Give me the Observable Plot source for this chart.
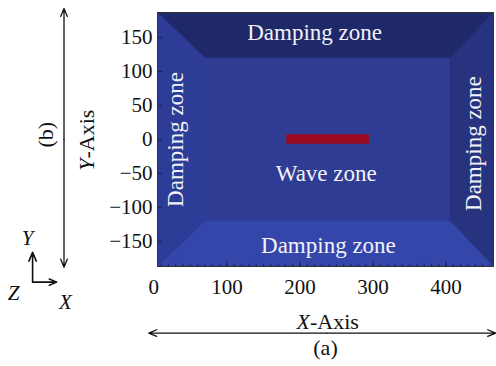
<!DOCTYPE html>
<html><head><meta charset="utf-8">
<script src="https://cdn.jsdelivr.net/npm/d3@7"></script>
<script src="https://cdn.jsdelivr.net/npm/@observablehq/plot@0.6"></script>
<style>body{margin:0;background:#fff}</style>
</head><body><div id="chart"></div>
<script>
// Domain and zones (metres)
const xDomain = [5, 465];
const yDomain = [-187, 187];
const innerX = [70, 406];
const innerY = [-120, 120];
const sourceX = [182, 295];
const sourceY = [-7, 7];
const xTicks = [0, 100, 200, 300, 400];
const yTicks = [-150, -100, -50, 0, 50, 100, 150];
const zoneNames = ["top", "bottom", "left", "right"];
const zoneColors = ["#1f2868", "#3546aa", "#2d3c96", "#27337e"];
const waveColor = "#2e3c94";
const sourceColor = "#9a0b1f";
const labelText = ["Damping zone", "Damping zone", "Damping zone", "Damping zone", "Wave zone"];
const labelX = [220, 239, 30, 438, 236];
const labelY = [157, -156, 0, -6, -50];
const labelRotate = [0, 0, -90, -90, 0];

const [x0, x1] = xDomain, [y0, y1] = yDomain;
const [ix0, ix1] = innerX, [iy0, iy1] = innerY;
const polys = {
  top: [[x0, y1], [x1, y1], [ix1, iy1], [ix0, iy1]],
  bottom: [[x0, y0], [x1, y0], [ix1, iy0], [ix0, iy0]],
  left: [[x0, y0], [x0, y1], [ix0, iy1], [ix0, iy0]],
  right: [[x1, y0], [x1, y1], [ix1, iy1], [ix1, iy0]]
};
const labels = labelText.map((t, i) => ({t, x: labelX[i], y: labelY[i], r: labelRotate[i]}));
const minor = d3.range(10, 465, 10);

const serif = "'Liberation Serif', 'Times New Roman', serif";
const arrowStyle = {stroke: "#111", strokeWidth: 1.3, headLength: 10, headAngle: 45};

const chart = Plot.plot({
  width: 496, height: 366,
  marginLeft: 157, marginRight: 3, marginTop: 12, marginBottom: 100,
  x: {domain: xDomain},
  y: {domain: yDomain},
  style: {fontFamily: serif, fontSize: "21px", color: "#111", background: "white"},
  marks: [
    Plot.rect([0], {x1: () => x0, x2: () => x1, y1: () => y0, y2: () => y1, fill: waveColor}),
    ...zoneNames.map((n, i) => Plot.line(polys[n], {x: d => d[0], y: d => d[1], fill: zoneColors[i], stroke: zoneColors[i], strokeWidth: 0.6})),
    Plot.rect([0], {x1: () => ix0, x2: () => ix1, y1: () => iy0, y2: () => iy1, fill: waveColor, inset: 0.3}),
    Plot.rect([0], {x1: () => sourceX[0], x2: () => sourceX[1], y1: () => sourceY[0], y2: () => sourceY[1], fill: sourceColor}),
    Plot.text(labels, {x: "x", y: "y", text: "t", rotate: "r", fill: "#f2f2f8", fontSize: 23, fontFamily: serif}),
    Plot.ruleX(minor, {y1: y0, y2: y0 + 3, stroke: "#151a40", strokeWidth: 0.8}),
    Plot.ruleX(xTicks.filter(v => v >= x0), {y1: y0, y2: y0 + 7, stroke: "#151a40", strokeWidth: 0.8}),
    Plot.ruleY(yTicks, {x1: x0, x2: x0 + 7, stroke: "#151a40", strokeWidth: 0.8}),
    Plot.frame({stroke: "#333", strokeWidth: 1}),
    Plot.axisX({ticks: xTicks, tickSize: 0, tickPadding: 13, label: null, fontSize: 21}),
    Plot.axisY({ticks: yTicks, tickSize: 0, tickPadding: 5, label: null, fontSize: 21, tickFormat: d => d < 0 ? "\u2212" + Math.abs(d) : String(d)}),
    // annotation arrows and labels around the plot
    Plot.arrow([0], {x1: () => 237, y1: () => -285, x2: () => 468, y2: () => -285, ...arrowStyle}),
    Plot.arrow([0], {x1: () => 237, y1: () => -285, x2: () => -7, y2: () => -285, ...arrowStyle}),
    Plot.arrow([0], {x1: () => -123, y1: () => 0, x2: () => -123, y2: () => 193, ...arrowStyle}),
    Plot.arrow([0], {x1: () => -123, y1: () => 0, x2: () => -123, y2: () => -188, ...arrowStyle}),
    Plot.arrow([0], {x1: () => -166, y1: () => -210, x2: () => -166, y2: () => -166, stroke: "#111", strokeWidth: 1.6, headLength: 9, headAngle: 45}),
    Plot.arrow([0], {x1: () => -166, y1: () => -210, x2: () => -133, y2: () => -210, stroke: "#111", strokeWidth: 1.6, headLength: 9, headAngle: 45}),
    Plot.text(["X-Axis"], {x: () => 238, y: () => -269, fontSize: 22, fill: "#111", fontFamily: serif}),
    Plot.text(["(a)"], {x: () => 235, y: () => -307, fontSize: 22, fill: "#111", fontFamily: serif}),
    Plot.text(["Y-Axis"], {x: () => -91, y: () => -1, rotate: -90, fontSize: 22, fill: "#111", fontFamily: serif}),
    Plot.text(["(b)"], {x: () => -148, y: () => 7, rotate: -90, fontSize: 22, fill: "#111", fontFamily: serif}),
    Plot.text(["Y"], {x: () => -173, y: () => -146, fontSize: 21, fontStyle: "italic", fill: "#111", fontFamily: serif}),
    Plot.text(["Z"], {x: () => -192, y: () => -227, fontSize: 21, fontStyle: "italic", fill: "#111", fontFamily: serif}),
    Plot.text(["X"], {x: () => -121, y: () => -240, fontSize: 21, fontStyle: "italic", fill: "#111", fontFamily: serif})
  ]
});
// italicise the axis letter in "X-Axis" / "Y-Axis"
d3.select(chart).selectAll("text").each(function() {
  const t = this.textContent;
  if (t === "X-Axis" || t === "Y-Axis") {
    const el = d3.select(this);
    const host = el.select("tspan").empty() ? el : el.select("tspan");
    host.text(null);
    host.append("tspan").attr("font-style", "italic").text(t[0]);
    host.append("tspan").text(t.slice(1));
  }
});
document.getElementById("chart").append(chart);
</script>
</body></html>
